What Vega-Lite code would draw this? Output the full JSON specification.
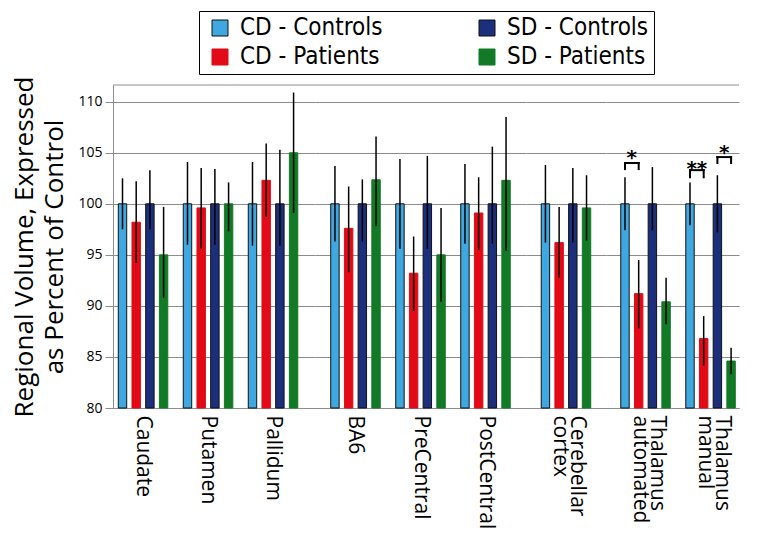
{
  "$schema": "https://vega.github.io/schema/vega-lite/v6.json",
  "background": "white",
  "padding": {"left": 11, "top": 10, "right": 8, "bottom": 5},
  "datasets": {
    "bars": [
      {"s": "Caudate", "cls": "Basal ganglia", "g": "CD - Controls", "v": 100, "lo": 97.5, "hi": 102.5},
      {"s": "Caudate", "cls": "Basal ganglia", "g": "CD - Patients", "v": 98.2, "lo": 94.2, "hi": 102.2},
      {"s": "Caudate", "cls": "Basal ganglia", "g": "SD - Controls", "v": 100, "lo": 97.5, "hi": 103.3},
      {"s": "Caudate", "cls": "Basal ganglia", "g": "SD - Patients", "v": 95.0, "lo": 90.8, "hi": 99.7},
      {"s": "Putamen", "cls": "Basal ganglia", "g": "CD - Controls", "v": 100, "lo": 96.0, "hi": 104.1},
      {"s": "Putamen", "cls": "Basal ganglia", "g": "CD - Patients", "v": 99.6, "lo": 95.6, "hi": 103.5},
      {"s": "Putamen", "cls": "Basal ganglia", "g": "SD - Controls", "v": 100, "lo": 96.0, "hi": 103.4},
      {"s": "Putamen", "cls": "Basal ganglia", "g": "SD - Patients", "v": 100, "lo": 97.3, "hi": 102.1},
      {"s": "Pallidum", "cls": "Basal ganglia", "g": "CD - Controls", "v": 100, "lo": 95.9, "hi": 104.1},
      {"s": "Pallidum", "cls": "Basal ganglia", "g": "CD - Patients", "v": 102.3, "lo": 98.7, "hi": 105.9},
      {"s": "Pallidum", "cls": "Basal ganglia", "g": "SD - Controls", "v": 100, "lo": 95.9, "hi": 105.3},
      {"s": "Pallidum", "cls": "Basal ganglia", "g": "SD - Patients", "v": 105.0, "lo": 99.1, "hi": 110.9},
      {"s": "BA6", "cls": "Motor cortex", "g": "CD - Controls", "v": 100, "lo": 96.3, "hi": 103.7},
      {"s": "BA6", "cls": "Motor cortex", "g": "CD - Patients", "v": 97.6, "lo": 93.3, "hi": 101.7},
      {"s": "BA6", "cls": "Motor cortex", "g": "SD - Controls", "v": 100, "lo": 96.3, "hi": 102.4},
      {"s": "BA6", "cls": "Motor cortex", "g": "SD - Patients", "v": 102.35, "lo": 97.8, "hi": 106.6},
      {"s": "PreCentral", "cls": "Motor cortex", "g": "CD - Controls", "v": 100, "lo": 95.6, "hi": 104.4},
      {"s": "PreCentral", "cls": "Motor cortex", "g": "CD - Patients", "v": 93.2, "lo": 89.5, "hi": 96.8},
      {"s": "PreCentral", "cls": "Motor cortex", "g": "SD - Controls", "v": 100, "lo": 95.6, "hi": 104.7},
      {"s": "PreCentral", "cls": "Motor cortex", "g": "SD - Patients", "v": 95.0, "lo": 90.4, "hi": 99.6},
      {"s": "PostCentral", "cls": "Motor cortex", "g": "CD - Controls", "v": 100, "lo": 96.1, "hi": 103.9},
      {"s": "PostCentral", "cls": "Motor cortex", "g": "CD - Patients", "v": 99.1, "lo": 95.5, "hi": 102.6},
      {"s": "PostCentral", "cls": "Motor cortex", "g": "SD - Controls", "v": 100, "lo": 96.1, "hi": 105.6},
      {"s": "PostCentral", "cls": "Motor cortex", "g": "SD - Patients", "v": 102.3, "lo": 95.4, "hi": 108.5},
      {"s": "Cerebellar|cortex", "cls": "Cerebellum", "g": "CD - Controls", "v": 100, "lo": 96.2, "hi": 103.8},
      {"s": "Cerebellar|cortex", "cls": "Cerebellum", "g": "CD - Patients", "v": 96.2, "lo": 92.75, "hi": 99.7},
      {"s": "Cerebellar|cortex", "cls": "Cerebellum", "g": "SD - Controls", "v": 100, "lo": 96.2, "hi": 103.5},
      {"s": "Cerebellar|cortex", "cls": "Cerebellum", "g": "SD - Patients", "v": 99.6, "lo": 96.4, "hi": 102.8},
      {"s": "Thalamus|automated", "cls": "Thalamus", "g": "CD - Controls", "v": 100, "lo": 97.4, "hi": 102.6},
      {"s": "Thalamus|automated", "cls": "Thalamus", "g": "CD - Patients", "v": 91.2, "lo": 87.8, "hi": 94.5},
      {"s": "Thalamus|automated", "cls": "Thalamus", "g": "SD - Controls", "v": 100, "lo": 97.4, "hi": 103.6},
      {"s": "Thalamus|automated", "cls": "Thalamus", "g": "SD - Patients", "v": 90.4, "lo": 88.2, "hi": 92.75},
      {"s": "Thalamus|manual", "cls": "Thalamus", "g": "CD - Controls", "v": 100, "lo": 97.9, "hi": 102.1},
      {"s": "Thalamus|manual", "cls": "Thalamus", "g": "CD - Patients", "v": 86.8, "lo": 84.15, "hi": 89.0},
      {"s": "Thalamus|manual", "cls": "Thalamus", "g": "SD - Controls", "v": 100, "lo": 97.2, "hi": 102.8},
      {"s": "Thalamus|manual", "cls": "Thalamus", "g": "SD - Patients", "v": 84.6, "lo": 83.3, "hi": 85.9}
    ],
    "sig": [
      {"s": "Thalamus|automated", "a": "CD - Controls", "b": "CD - Patients", "star": "*", "ys": 103.88, "yt": 104.0, "yl": 103.4},
      {"s": "Thalamus|manual", "a": "CD - Controls", "b": "CD - Patients", "star": "**", "ys": 102.84, "yt": 103.3, "yl": 102.6},
      {"s": "Thalamus|manual", "a": "SD - Controls", "b": "SD - Patients", "star": "*", "ys": 104.44, "yt": 104.58, "yl": 104.0}
    ]
  },
  "data": {"name": "bars"},
  "spacing": 0,
  "bounds": "flush",
  "hconcat": [
    {
      "width": 202, "height": 323,
      "layer": [
        {
          "transform": [{"filter": "datum.cls === 'Basal ganglia'"}],
          "mark": {"type": "bar", "strokeWidth": 1},
          "encoding": {
            "x": {"field": "s", "type": "nominal", "sort": null, "title": null,
              "scale": {"domain": ["Caudate", "Putamen", "Pallidum"], "paddingInner": 0.238, "paddingOuter": 0.173, "align": 0.235},
              "axis": {"labelAngle": 90, "labelAlign": "left", "labelBaseline": "middle", "labelFont": "Open Sans", "labelFontSize": 21, "labelColor": "black", "labelPadding": 7, "ticks": false, "domainColor": "#8c8c8c", "labelExpr": "split(datum.label, '|')", "labelLineHeight": 17, "labelLimit": 0}},
            "xOffset": {"field": "g", "type": "nominal", "scale": {"domain": ["CD - Controls", "CD - Patients", "SD - Controls", "SD - Patients"], "paddingInner": 0.385, "paddingOuter": 0}},
            "y": {"field": "v", "type": "quantitative", "title": ["Regional Volume, Expressed", "as Percent of Control"], "scale": {"domain": [80, 111.64], "zero": false, "nice": false},
              "axis": {"values": [80, 85, 90, 95, 100, 105, 110], "grid": true, "gridColor": "#8c8c8c", "domainColor": "#8c8c8c", "tickColor": "#8c8c8c", "tickSize": 8, "labelFont": "Open Sans", "labelFontSize": 14, "labelColor": "black", "labelPadding": 3,
                "titleFont": "Open Sans", "titleFontSize": 26, "titleFontWeight": "normal", "titleColor": "black", "titleLineHeight": 30, "titlePadding": 10}},
            "y2": {"datum": 80},
            "color": {"field": "g", "type": "nominal", "title": null,
              "scale": {"domain": ["CD - Controls", "SD - Controls", "CD - Patients", "SD - Patients"], "range": ["#3fa8e0", "#1b2f7c", "#e20a16", "#127a26"]},
              "legend": {"orient": "none", "legendX": 86, "legendY": -74, "direction": "horizontal", "columns": 2, "symbolType": "square", "symbolSize": 256, "symbolStrokeWidth": 1, "symbolOffset": 4, "labelOffset": 8, "labelFont": "Liberation Sans Narrow, DejaVu Sans Condensed, Liberation Sans", "labelFontSize": 24, "labelColor": "black", "columnPadding": 88, "rowPadding": 5, "strokeColor": "black", "padding": 5, "labelLimit": 0}},
            "stroke": {"field": "g", "type": "nominal", "title": null,
              "scale": {"domain": ["CD - Controls", "SD - Controls", "CD - Patients", "SD - Patients"], "range": ["#111111", "#111111", "#e20a16", "#127a26"]},
              "legend": {"orient": "none", "legendX": 86, "legendY": -74, "direction": "horizontal", "columns": 2, "symbolType": "square", "symbolSize": 256, "symbolStrokeWidth": 1, "symbolOffset": 4, "labelOffset": 8, "labelFont": "Liberation Sans Narrow, DejaVu Sans Condensed, Liberation Sans", "labelFontSize": 24, "labelColor": "black", "columnPadding": 88, "rowPadding": 5, "strokeColor": "black", "padding": 5, "labelLimit": 0}}
          }
        },
        {
          "transform": [{"filter": "datum.cls === 'Basal ganglia'"}],
          "mark": {"type": "rule", "color": "black", "strokeWidth": 1.5},
          "encoding": {
            "x": {"field": "s", "type": "nominal", "sort": null, "title": null},
            "xOffset": {"field": "g", "type": "nominal"},
            "y": {"field": "lo", "type": "quantitative", "title": ["Regional Volume, Expressed", "as Percent of Control"]},
            "y2": {"field": "hi"}
          }
        },
        {
          "data": {"values": [{}]},
          "mark": {"type": "rule", "color": "#8c8c8c"},
          "encoding": {"y": {"datum": 111.64, "type": "quantitative", "title": ["Regional Volume, Expressed", "as Percent of Control"]}}
        }
      ]
    },
    {
      "width": 211, "height": 323,
      "layer": [
        {
          "transform": [{"filter": "datum.cls === 'Motor cortex'"}],
          "mark": {"type": "bar", "strokeWidth": 1},
          "encoding": {
            "x": {"field": "s", "type": "nominal", "sort": null, "title": null,
              "scale": {"domain": ["BA6", "PreCentral", "PostCentral"], "paddingInner": 0.238, "paddingOuter": 0.242, "align": 0.5},
              "axis": {"labelAngle": 90, "labelAlign": "left", "labelBaseline": "middle", "labelFont": "Open Sans", "labelFontSize": 21, "labelColor": "black", "labelPadding": 7, "ticks": false, "domainColor": "#8c8c8c", "labelExpr": "split(datum.label, '|')", "labelLineHeight": 17, "labelLimit": 0}},
            "xOffset": {"field": "g", "type": "nominal", "scale": {"domain": ["CD - Controls", "CD - Patients", "SD - Controls", "SD - Patients"], "paddingInner": 0.385, "paddingOuter": 0}},
            "y": {"field": "v", "type": "quantitative", "title": null, "scale": {"domain": [80, 111.64], "zero": false, "nice": false},
              "axis": {"values": [80, 85, 90, 95, 100, 105, 110], "grid": true, "gridColor": "#8c8c8c", "labels": false, "ticks": false, "domain": false}},
            "y2": {"datum": 80},
            "color": {"field": "g", "type": "nominal", "title": null,
              "scale": {"domain": ["CD - Controls", "SD - Controls", "CD - Patients", "SD - Patients"], "range": ["#3fa8e0", "#1b2f7c", "#e20a16", "#127a26"]},
              "legend": {"orient": "none", "legendX": 86, "legendY": -74, "direction": "horizontal", "columns": 2, "symbolType": "square", "symbolSize": 256, "symbolStrokeWidth": 1, "symbolOffset": 4, "labelOffset": 8, "labelFont": "Liberation Sans Narrow, DejaVu Sans Condensed, Liberation Sans", "labelFontSize": 24, "labelColor": "black", "columnPadding": 88, "rowPadding": 5, "strokeColor": "black", "padding": 5, "labelLimit": 0}},
            "stroke": {"field": "g", "type": "nominal", "title": null,
              "scale": {"domain": ["CD - Controls", "SD - Controls", "CD - Patients", "SD - Patients"], "range": ["#111111", "#111111", "#e20a16", "#127a26"]},
              "legend": {"orient": "none", "legendX": 86, "legendY": -74, "direction": "horizontal", "columns": 2, "symbolType": "square", "symbolSize": 256, "symbolStrokeWidth": 1, "symbolOffset": 4, "labelOffset": 8, "labelFont": "Liberation Sans Narrow, DejaVu Sans Condensed, Liberation Sans", "labelFontSize": 24, "labelColor": "black", "columnPadding": 88, "rowPadding": 5, "strokeColor": "black", "padding": 5, "labelLimit": 0}}
          }
        },
        {
          "transform": [{"filter": "datum.cls === 'Motor cortex'"}],
          "mark": {"type": "rule", "color": "black", "strokeWidth": 1.5},
          "encoding": {
            "x": {"field": "s", "type": "nominal", "sort": null, "title": null},
            "xOffset": {"field": "g", "type": "nominal"},
            "y": {"field": "lo", "type": "quantitative", "title": null},
            "y2": {"field": "hi"}
          }
        },
        {
          "data": {"values": [{}]},
          "mark": {"type": "rule", "color": "#8c8c8c"},
          "encoding": {"y": {"datum": 111.64, "type": "quantitative", "title": null}}
        }
      ]
    },
    {
      "width": 80, "height": 323,
      "layer": [
        {
          "transform": [{"filter": "datum.cls === 'Cerebellum'"}],
          "mark": {"type": "bar", "strokeWidth": 1},
          "encoding": {
            "x": {"field": "s", "type": "nominal", "sort": null, "title": null,
              "scale": {"domain": ["Cerebellar|cortex"], "paddingInner": 0.238, "paddingOuter": 0.234, "align": 0.5},
              "axis": {"labelAngle": 90, "labelAlign": "left", "labelBaseline": "middle", "labelFont": "Open Sans", "labelFontSize": 21, "labelColor": "black", "labelPadding": 7, "labelOffset": 11, "ticks": false, "domainColor": "#8c8c8c", "labelExpr": "split(datum.label, '|')", "labelLineHeight": 17, "labelLimit": 0}},
            "xOffset": {"field": "g", "type": "nominal", "scale": {"domain": ["CD - Controls", "CD - Patients", "SD - Controls", "SD - Patients"], "paddingInner": 0.385, "paddingOuter": 0}},
            "y": {"field": "v", "type": "quantitative", "title": null, "scale": {"domain": [80, 111.64], "zero": false, "nice": false},
              "axis": {"values": [80, 85, 90, 95, 100, 105, 110], "grid": true, "gridColor": "#8c8c8c", "labels": false, "ticks": false, "domain": false}},
            "y2": {"datum": 80},
            "color": {"field": "g", "type": "nominal", "title": null,
              "scale": {"domain": ["CD - Controls", "SD - Controls", "CD - Patients", "SD - Patients"], "range": ["#3fa8e0", "#1b2f7c", "#e20a16", "#127a26"]},
              "legend": {"orient": "none", "legendX": 86, "legendY": -74, "direction": "horizontal", "columns": 2, "symbolType": "square", "symbolSize": 256, "symbolStrokeWidth": 1, "symbolOffset": 4, "labelOffset": 8, "labelFont": "Liberation Sans Narrow, DejaVu Sans Condensed, Liberation Sans", "labelFontSize": 24, "labelColor": "black", "columnPadding": 88, "rowPadding": 5, "strokeColor": "black", "padding": 5, "labelLimit": 0}},
            "stroke": {"field": "g", "type": "nominal", "title": null,
              "scale": {"domain": ["CD - Controls", "SD - Controls", "CD - Patients", "SD - Patients"], "range": ["#111111", "#111111", "#e20a16", "#127a26"]},
              "legend": {"orient": "none", "legendX": 86, "legendY": -74, "direction": "horizontal", "columns": 2, "symbolType": "square", "symbolSize": 256, "symbolStrokeWidth": 1, "symbolOffset": 4, "labelOffset": 8, "labelFont": "Liberation Sans Narrow, DejaVu Sans Condensed, Liberation Sans", "labelFontSize": 24, "labelColor": "black", "columnPadding": 88, "rowPadding": 5, "strokeColor": "black", "padding": 5, "labelLimit": 0}}
          }
        },
        {
          "transform": [{"filter": "datum.cls === 'Cerebellum'"}],
          "mark": {"type": "rule", "color": "black", "strokeWidth": 1.5},
          "encoding": {
            "x": {"field": "s", "type": "nominal", "sort": null, "title": null},
            "xOffset": {"field": "g", "type": "nominal"},
            "y": {"field": "lo", "type": "quantitative", "title": null},
            "y2": {"field": "hi"}
          }
        },
        {
          "data": {"values": [{}]},
          "mark": {"type": "rule", "color": "#8c8c8c"},
          "encoding": {"y": {"datum": 111.64, "type": "quantitative", "title": null}}
        }
      ]
    },
    {
      "width": 133, "height": 323,
      "layer": [
        {
          "transform": [{"filter": "datum.cls === 'Thalamus'"}],
          "mark": {"type": "bar", "strokeWidth": 1},
          "encoding": {
            "x": {"field": "s", "type": "nominal", "sort": null, "title": null,
              "scale": {"domain": ["Thalamus|automated", "Thalamus|manual"], "paddingInner": 0.238, "paddingOuter": 0.142, "align": 0.8},
              "axis": {"labelAngle": 90, "labelAlign": "left", "labelBaseline": "middle", "labelFont": "Open Sans", "labelFontSize": 21, "labelColor": "black", "labelPadding": 7, "labelOffset": 11, "ticks": false, "domainColor": "#8c8c8c", "labelExpr": "split(datum.label, '|')", "labelLineHeight": 17, "labelLimit": 0}},
            "xOffset": {"field": "g", "type": "nominal", "scale": {"domain": ["CD - Controls", "CD - Patients", "SD - Controls", "SD - Patients"], "paddingInner": 0.385, "paddingOuter": 0}},
            "y": {"field": "v", "type": "quantitative", "title": null, "scale": {"domain": [80, 111.64], "zero": false, "nice": false},
              "axis": {"values": [80, 85, 90, 95, 100, 105, 110], "grid": true, "gridColor": "#8c8c8c", "labels": false, "ticks": false, "domain": false}},
            "y2": {"datum": 80},
            "color": {"field": "g", "type": "nominal", "title": null,
              "scale": {"domain": ["CD - Controls", "SD - Controls", "CD - Patients", "SD - Patients"], "range": ["#3fa8e0", "#1b2f7c", "#e20a16", "#127a26"]},
              "legend": {"orient": "none", "legendX": 86, "legendY": -74, "direction": "horizontal", "columns": 2, "symbolType": "square", "symbolSize": 256, "symbolStrokeWidth": 1, "symbolOffset": 4, "labelOffset": 8, "labelFont": "Liberation Sans Narrow, DejaVu Sans Condensed, Liberation Sans", "labelFontSize": 24, "labelColor": "black", "columnPadding": 88, "rowPadding": 5, "strokeColor": "black", "padding": 5, "labelLimit": 0}},
            "stroke": {"field": "g", "type": "nominal", "title": null,
              "scale": {"domain": ["CD - Controls", "SD - Controls", "CD - Patients", "SD - Patients"], "range": ["#111111", "#111111", "#e20a16", "#127a26"]},
              "legend": {"orient": "none", "legendX": 86, "legendY": -74, "direction": "horizontal", "columns": 2, "symbolType": "square", "symbolSize": 256, "symbolStrokeWidth": 1, "symbolOffset": 4, "labelOffset": 8, "labelFont": "Liberation Sans Narrow, DejaVu Sans Condensed, Liberation Sans", "labelFontSize": 24, "labelColor": "black", "columnPadding": 88, "rowPadding": 5, "strokeColor": "black", "padding": 5, "labelLimit": 0}}
          }
        },
        {
          "transform": [{"filter": "datum.cls === 'Thalamus'"}],
          "mark": {"type": "rule", "color": "black", "strokeWidth": 1.5},
          "encoding": {
            "x": {"field": "s", "type": "nominal", "sort": null, "title": null},
            "xOffset": {"field": "g", "type": "nominal"},
            "y": {"field": "lo", "type": "quantitative", "title": null},
            "y2": {"field": "hi"}
          }
        },
        {
          "data": {"values": [{}]},
          "mark": {"type": "rule", "color": "#8c8c8c"},
          "encoding": {"y": {"datum": 111.64, "type": "quantitative", "title": null}}
        },
        {
          "data": {"name": "sig"},
          "transform": [{"fold": ["a", "b"], "as": ["side", "grp"]}],
          "mark": {"type": "rule", "color": "black", "strokeWidth": 2, "strokeCap": "square"},
          "encoding": {
            "x": {"field": "s", "type": "nominal", "sort": null, "title": null},
            "xOffset": {"field": "grp", "type": "nominal"},
            "y": {"field": "yl", "type": "quantitative", "title": null},
            "y2": {"field": "yt"}
          }
        },
        {
          "data": {"name": "sig"},
          "transform": [{"filter": "datum.a === 'CD - Controls'"}],
          "mark": {"type": "rule", "color": "black", "strokeWidth": 2, "strokeCap": "square"},
          "encoding": {
            "x": {"field": "s", "type": "nominal", "sort": null, "title": null, "bandPosition": 0.085},
            "x2": {"field": "s", "bandPosition": 0.362},
            "y": {"field": "yt", "type": "quantitative", "title": null}
          }
        },
        {
          "data": {"name": "sig"},
          "transform": [{"filter": "datum.a === 'SD - Controls'"}],
          "mark": {"type": "rule", "color": "black", "strokeWidth": 2, "strokeCap": "square"},
          "encoding": {
            "x": {"field": "s", "type": "nominal", "sort": null, "title": null, "bandPosition": 0.638},
            "x2": {"field": "s", "bandPosition": 0.915},
            "y": {"field": "yt", "type": "quantitative", "title": null}
          }
        },
        {
          "data": {"name": "sig"},
          "mark": {"type": "text", "font": "DejaVu Sans", "fontSize": 20, "fontWeight": "bold", "align": "center", "baseline": "alphabetic", "dx": 6.85, "color": "black"},
          "encoding": {
            "x": {"field": "s", "type": "nominal", "sort": null, "title": null},
            "xOffset": {"field": "a", "type": "nominal"},
            "y": {"field": "ys", "type": "quantitative", "title": null},
            "text": {"field": "star"}
          }
        }
      ]
    }
  ],
  "config": {"view": {"stroke": null}}
}
